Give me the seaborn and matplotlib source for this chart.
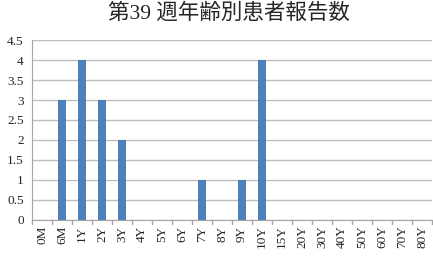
import matplotlib
matplotlib.use("Agg")
import matplotlib.pyplot as plt
import seaborn as sns
import pandas as pd

categories = ["0M", "6M", "1Y", "2Y", "3Y", "4Y", "5Y", "6Y", "7Y", "8Y", "9Y", "10Y",
              "15Y", "20Y", "30Y", "40Y", "50Y", "60Y", "70Y", "80Y"]
values = [0, 3, 4, 3, 2, 0, 0, 0, 1, 0, 1, 4, 0, 0, 0, 0, 0, 0, 0, 0]
yticks = [0, 0.5, 1, 1.5, 2, 2.5, 3, 3.5, 4, 4.5]
ytick_labels = ["0", "0.5", "1", "1.5", "2", "2.5", "3", "3.5", "4", "4.5"]
title = "第39 週年齢別患者報告数"

sns.set_style("white")
plt.rcParams['font.family'] = ['Liberation Serif', 'Noto Sans CJK JP', 'DejaVu Sans']

df = pd.DataFrame({"age": categories, "count": values})

fig = plt.figure(figsize=(4.33, 2.57), dpi=100)
ax = fig.add_axes([32/433, 37/257, 400/433, 180/257])
sns.barplot(data=df, x="age", y="count", color="#4F81BD", saturation=1,
            width=0.4, ax=ax, edgecolor="none")

ax.set_xlim(-0.5, len(categories) - 0.5)
ax.set_ylim(0, 4.5)
ax.set_yticks(yticks)
ax.set_yticklabels(ytick_labels, fontsize=9.5)
ax.yaxis.grid(True, color="#BFBFBF", linewidth=1)
ax.set_axisbelow(True)
ax.set_xlabel("")
ax.set_ylabel("")
ax.set_xticks(range(len(categories)))
ax.set_xticklabels(categories, rotation=90, fontsize=9.5)
ax.tick_params(axis="x", length=0, pad=4)
ax.tick_params(axis="y", length=0, pad=6)
# boundary tick marks
for i in range(len(categories) + 1):
    ax.plot([i - 0.5, i - 0.5], [0, -0.1], color="#A6A6A6", linewidth=1, clip_on=False)
for s in ["top", "right"]:
    ax.spines[s].set_visible(False)
ax.spines["left"].set_color("#A6A6A6")
ax.spines["bottom"].set_color("#A6A6A6")

fig.text(229/433, 1 - 14/257, title, ha="center", va="center", fontsize=15.5,
         family=['Liberation Serif', 'Noto Sans CJK JP'])

fig.savefig("out.png", dpi=100)
